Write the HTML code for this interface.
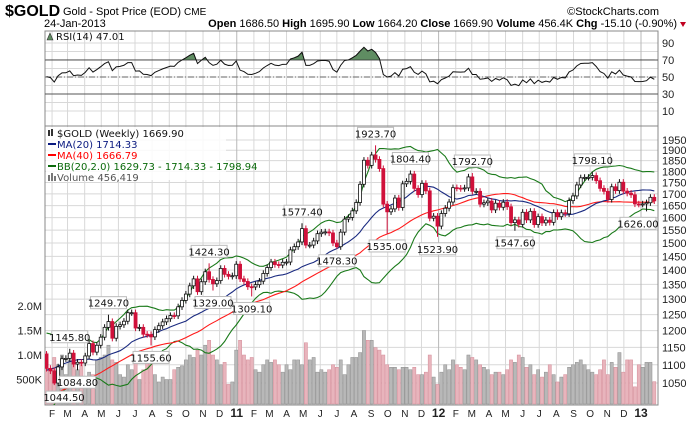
<!DOCTYPE html>
<html><head><meta charset="utf-8">
<style>
html,body{margin:0;padding:0;background:#fff;}
svg{display:block;font-family:"Liberation Sans",Arial,sans-serif;}
.lg{font-family:"DejaVu Sans","Liberation Sans",sans-serif;font-size:10px;}
</style></head>
<body>
<svg id="chart" width="700" height="421" viewBox="0 0 700 421" xmlns="http://www.w3.org/2000/svg">
<rect x="0" y="0" width="700" height="421" fill="#fff"/>
<text x="5" y="16" font-size="16" font-weight="bold">$GOLD</text>
<text x="63" y="15" font-size="11">Gold - Spot Price (EOD) <tspan font-size="10">CME</tspan></text>
<text x="659" y="15" font-size="11" text-anchor="end">©StockCharts.com</text>
<text x="44" y="27" font-size="11">24-Jan-2013</text>
<text x="677" y="27" font-size="11" text-anchor="end"><tspan font-weight="bold">Open</tspan> 1686.50 <tspan font-weight="bold">High</tspan> 1695.90 <tspan font-weight="bold">Low</tspan> 1664.20 <tspan font-weight="bold">Close</tspan> 1669.90 <tspan font-weight="bold">Volume</tspan> 456.4K <tspan font-weight="bold">Chg</tspan> -15.10 (-0.90%)</text>
<polygon points="680,22 686,22 683,27" fill="#c00020"/>
<g id="g"></g>
</svg>
<script>
const preCloses=[1130,870,887,913,885,914,930,956,975,961,939,932,940,931,912,937,952,955,957,948,952,955,996,1006,1010,991,1003,1049,1052,1057,1045,1096,1118,1143,1175,1162,1119,1110,1104,1097,1138,1130];
const closes=[1090,1083,1050,1094,1117,1118,1133,1102,1107,1105,1125,1161,1136,1156,1180,1210,1228,1177,1213,1218,1229,1256,1256,1208,1210,1189,1188,1181,1203,1215,1227,1237,1247,1246,1275,1296,1317,1345,1369,1325,1359,1394,1367,1352,1363,1406,1385,1378,1380,1421,
1369,1360,1342,1341,1349,1361,1388,1409,1429,1420,1418,1428,1429,1474,1486,1504,1556,1492,1492,1508,1536,1542,1543,1539,1500,1486,1542,1594,1601,1628,1663,1742,1852,1828,1877,1856,1813,1656,1624,1636,1682,1642,1744,1755,1788,1724,1697,1746,1713,1598,1606,1566,
1617,1639,1665,1727,1725,1723,1726,1775,1711,1711,1656,1662,1669,1632,1660,1643,1664,1645,1580,1591,1573,1622,1591,1626,1572,1604,1579,1590,1581,1621,1604,1620,1616,1671,1691,1739,1771,1773,1773,1781,1758,1724,1711,1676,1731,1714,1751,1712,1703,1696,1657,1656,1657,1662,1685,1670];
const volumes=[1040,700,950,800,1000,600,900,850,700,800,500,650,600,900,950,1000,1200,900,850,600,550,800,700,900,500,700,850,1000,600,450,550,500,500,700,750,780,900,1000,950,1100,1000,1200,1300,1000,900,800,850,400,450,1100,
1300,1000,900,950,700,650,800,900,850,900,800,650,800,700,900,900,800,1250,900,950,650,700,650,700,800,750,900,600,800,950,950,1050,1500,1300,1300,1150,1100,1000,800,750,750,700,750,750,700,750,600,600,650,1000,550,400,
650,800,700,900,800,750,700,1000,950,900,800,750,700,600,650,650,600,700,900,850,1000,950,750,800,600,700,550,650,800,600,450,550,600,750,800,850,900,800,700,650,600,700,900,600,850,750,1050,650,900,900,350,800,750,850,850,456];
const annIdx=[2,8,6,16,27,42,43,53,66,75,85,88,94,101,110,121,141,155];
const annVal=[1044.50,1084.80,1145.80,1249.70,1155.60,1424.30,1329.00,1309.10,1577.40,1478.30,1923.70,1535.00,1804.40,1523.90,1792.70,1547.60,1798.10,1626.00];
const annSide=['l','l','h','h','l','h','l','l','h','l','h','l','h','l','h','l','h','l'];
const priceTicks=[1050,1100,1150,1200,1250,1300,1350,1400,1450,1500,1550,1600,1650,1700,1750,1800,1850,1900,1950];
const rsiTicks=[10,30,50,70,90];
const volTicks=[500,1000,1500,2000];
const volTickLabels=['500K','1.0M','1.5M','2.0M'];

const NS='http://www.w3.org/2000/svg';
const G=document.getElementById('g');
function el(tag,attrs,parent){const e=document.createElementNS(NS,tag);for(const k in attrs)e.setAttribute(k,attrs[k]);(parent||G).appendChild(e);return e;}
const L=45,R=658,RT=31,RB=126,MT=126,MB=405;
const DAY=864e5,REF=Date.UTC(2013,0,1),START=Date.UTC(2010,0,22);
function xd(ms){return 641+(ms-REF)/DAY*0.553;}
function xb(i){return xd(START+i*7*DAY);}
function py(p){return 140+(Math.log(1950)-Math.log(p))*392.6;}
function ry(v){return 119.5-v*0.85;}
function vy(v){return 404-v*0.049;}

const defs=el('defs',{});
const cp=el('clipPath',{id:'mainclip'},defs);el('rect',{x:L,y:MT,width:R-L,height:MB-MT},cp);
const cp2=el('clipPath',{id:'rsiclip'},defs);el('rect',{x:L,y:RT,width:R-L,height:ry(70)-RT},cp2);

const grid=el('g',{});
for(let v=10;v<=90;v+=10){el('line',{x1:L,x2:R,y1:ry(v),y2:ry(v),stroke:'#d8d8d8','stroke-width':1},grid);}
priceTicks.forEach(p=>el('line',{x1:L,x2:R,y1:py(p),y2:py(p),stroke:'#d8d8d8','stroke-width':1},grid));
const months='JFMAMJJASOND';
const xlab=el('g',{});
for(let y=2010;y<=2013;y++){for(let m=0;m<12;m++){
  if(y===2010&&m===0)continue; if(y===2013&&m>0)break;
  const x=xd(Date.UTC(y,m,1));
  el('line',{x1:x,x2:x,y1:RT,y2:MB,stroke:m===0?'#b8b8b8':'#d8d8d8','stroke-width':1},grid);
  const t=el('text',{x:x,y:417,'font-size':m===0?12:10,'font-weight':m===0?'bold':'normal','text-anchor':'middle',fill:'#222'},xlab);
  t.textContent=m===0?String(y%100).padStart(2,'0'):months[m];
}}
el('rect',{x:L,y:RT,width:R-L,height:RB-RT,fill:'none',stroke:'#888','stroke-width':1});
el('rect',{x:L,y:MT,width:R-L,height:MB-MT,fill:'none',stroke:'#888','stroke-width':1});

const all=preCloses.concat(closes);
const rsi=new Array(all.length).fill(null);
let ag=0,al=0;
for(let k=1;k<all.length;k++){const d=all[k]-all[k-1];const g=Math.max(d,0),l=Math.max(-d,0);
  if(k<=14){ag+=g/14;al+=l/14;}else{ag=(ag*13+g)/14;al=(al*13+l)/14;}
  if(k>=14)rsi[k]=al===0?100:100-100/(1+ag/al);}
const off=preCloses.length;
let rpts=[];for(let i=0;i<closes.length;i++){rpts.push([xb(i),ry(rsi[i+off])]);}
const rsiG=el('g',{});
el('line',{x1:L,x2:R,y1:ry(70),y2:ry(70),stroke:'#555','stroke-width':1},rsiG);
el('line',{x1:L,x2:R,y1:ry(30),y2:ry(30),stroke:'#555','stroke-width':1},rsiG);
el('line',{x1:L,x2:R,y1:ry(50),y2:ry(50),stroke:'#666','stroke-width':1,'stroke-dasharray':'6,2,1,2'},rsiG);
const fillPts=rpts.map(p=>p.join(',')).join(' ')+' '+rpts[rpts.length-1][0]+','+ry(70)+' '+rpts[0][0]+','+ry(70);
const rf=el('polygon',{points:fillPts,fill:'#5f8d62',stroke:'#333','stroke-width':0.8,'clip-path':'url(#rsiclip)'},rsiG);

const rl=el('polyline',{points:rpts.map(p=>p.join(',')).join(' '),fill:'none',stroke:'#111','stroke-width':1},rsiG);

rsiTicks.forEach(v=>{const t=el('text',{x:662,y:ry(v)+4,'font-size':11,fill:'#222'},rsiG);t.textContent=v;});
const rt=el('text',{x:56,y:40,class:'lg',fill:'#111'},rsiG);rt.textContent='RSI(14) 47.01';
el('polygon',{points:'47,40 50,33 53,40',fill:'#5f8d62',stroke:'#333','stroke-width':0.6},rsiG);

priceTicks.forEach(p=>{const t=el('text',{x:662,y:py(p)+4,'font-size':11,fill:'#222'});t.textContent=p;});
volTicks.forEach((v,j)=>{const t=el('text',{x:42,y:vy(v)+4,'font-size':11,fill:'#222','text-anchor':'end'});t.textContent=volTickLabels[j];});

const main=el('g',{'clip-path':'url(#mainclip)'});
const vg=el('g',{},main);
for(let i=0;i<volumes.length&&i<closes.length;i++){
  const down=all[i+off]<all[i+off-1];
  const b=el('rect',{x:xb(i)-1.6,y:vy(volumes[i]),width:3.2,height:404-vy(volumes[i]),fill:down?'#e8b4bc':'#b8b8b8',stroke:down?'#d48c98':'#8e8e8e','stroke-width':0.5},vg);
  
}
function sma(n,k){let s=0;for(let j=k-n+1;j<=k;j++)s+=all[j];return s/n;}
function sd(n,k,m){let s=0;for(let j=k-n+1;j<=k;j++)s+=(all[j]-m)**2;return Math.sqrt(s/n);}
const ma20=[],ma40=[],bbU=[],bbL=[];
for(let i=0;i<closes.length;i++){const k=i+off;const m=sma(20,k);ma20.push([xb(i),py(m)]);ma40.push([xb(i),py(sma(40,k))]);const s=sd(20,k,m);bbU.push([xb(i),py(m+2*s)]);bbL.push([xb(i),py(m-2*s)]);}
const ps=a=>a.map(p=>p[0].toFixed(1)+','+p[1].toFixed(1)).join(' ');
let l1=el('polyline',{points:ps(bbU),fill:'none',stroke:'#1a7a1a','stroke-width':1.1},main);
let l2=el('polyline',{points:ps(bbL),fill:'none',stroke:'#1a7a1a','stroke-width':1.1},main);
let l3=el('polyline',{points:ps(ma40),fill:'none',stroke:'#ff1a1a','stroke-width':1.1},main);
let l4=el('polyline',{points:ps(ma20),fill:'none',stroke:'#1a2a80','stroke-width':1.1},main);
const cg=el('g',{},main);
for(let i=0;i<closes.length;i++){
  const o=all[i+off-1],c=closes[i];
  let h=Math.max(o,c)*1.008,l=Math.min(o,c)*0.992;
  const a=annIdx.indexOf(i);if(a>=0){if(annSide[a]==='h')h=annVal[a];else l=annVal[a];}
  const x=xb(i),up=c>=o,col=up?'#111':'#d0103a';
  el('line',{x1:x,x2:x,y1:py(h),y2:py(l),stroke:col,'stroke-width':1},cg);
  const y1=py(Math.max(o,c)),y2=py(Math.min(o,c));
  const b=el('rect',{x:x-1.5,y:y1,width:3,height:Math.max(1,y2-y1),fill:up?'#fff':'#d0103a',stroke:col,'stroke-width':0.8},cg);
  
}
const ag2=el('g',{});
annIdx.forEach((i,j)=>{
  const x=xb(i),v=annVal[j],isH=annSide[j]==='h';
  const w=36,h=12;
  let bx=Math.min(Math.max(x-w/2,L+1),R-w-2);
  let by=isH?py(v)-6-h:py(v)+6;
  if(by+h>MB-1)by=MB-1-h;
  const g=el('g',{},ag2);
  el('rect',{x:bx,y:by,width:w,height:h,fill:'#fff',stroke:'#bbb','stroke-width':1},g);
  const t=el('text',{x:bx+w/2,y:by+10,'font-size':10,'text-anchor':'middle',fill:'#111',class:'lg'},g);t.textContent=v.toFixed(2);
});
const lg=el('g',{});
el('rect',{x:46,y:127,width:180,height:53,fill:'#fff',opacity:0.85},lg);
const items=[['$GOLD (Weekly) 1669.90','#111',133],['MA(20) 1714.33','#0a1a80',144],['MA(40) 1666.79','#ff0000',155],['BB(20,2.0) 1629.73 - 1714.33 - 1798.94','#0a6a0a',166],['Volume 456,419','#555',177]];
items.forEach((it,j)=>{
  const t=el('text',{x:57,y:it[2]+4,class:'lg',fill:it[1]},lg);t.textContent=it[0];
  
  if(j>=1&&j<=3)el('line',{x1:48,x2:56,y1:it[2],y2:it[2],stroke:it[1],'stroke-width':2},lg);
});
el('rect',{x:48,y:130,width:2,height:6,fill:'#333'},lg);el('rect',{x:51,y:129,width:2,height:7,fill:'#333'},lg);
el('rect',{x:48,y:175,width:2,height:6,fill:'#777'},lg);el('rect',{x:51,y:173,width:2,height:8,fill:'#777'},lg);el('rect',{x:54,y:176,width:2,height:5,fill:'#777'},lg);
</script>
</body></html>
